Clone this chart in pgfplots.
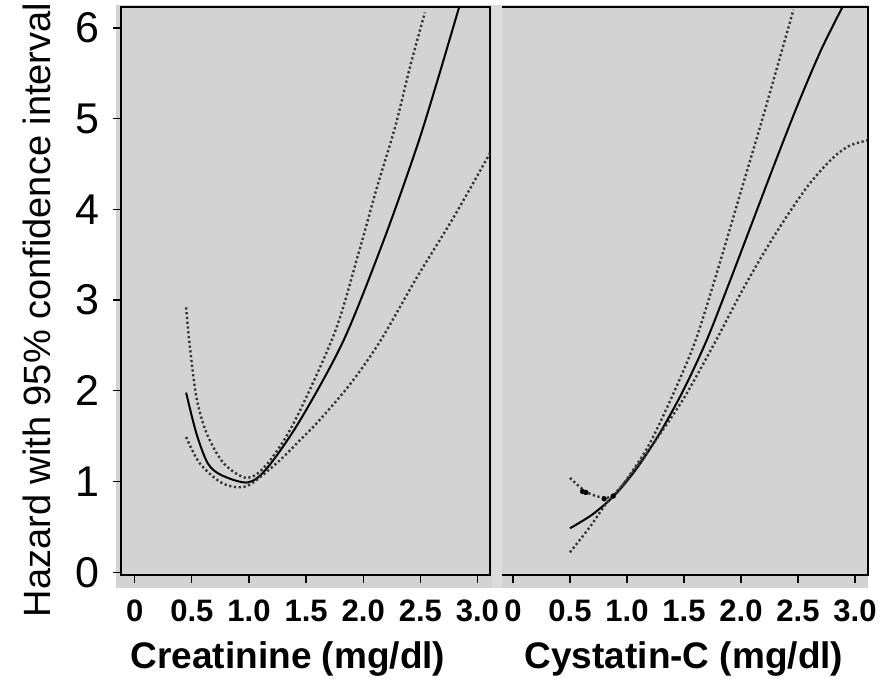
\documentclass[border=0pt]{standalone}
\usepackage{fontspec}
\setmainfont{Liberation Sans}
\usepackage{pgfplots}
\pgfplotsset{compat=1.18}

\definecolor{panelgray}{HTML}{D3D3D3}
\definecolor{gapgray}{HTML}{DCDCDC}
\definecolor{cidot}{HTML}{333333}

\pgfplotsset{
  hazard/.style={
    scale only axis, height=568pt,
    ymin=-0.03, ymax=6.23,
    xtick={0,0.5,1,1.5,2,2.5,3},
    xticklabels={0,0.5,1.0,1.5,2.0,2.5,3.0},
    xtick pos=left, ytick pos=left,
    tick align=outside,
    major tick length=8pt,
    tick style={line width=1.3pt, black},
    xticklabel style={font=\fontsize{31}{31}\selectfont\bfseries, inner sep=0pt, anchor=north, yshift=-17pt},
    yticklabel style={font=\fontsize{43}{43}\selectfont, inner sep=0pt, anchor=east, xshift=-13pt},
    axis line style={line width=1.8pt},
  },
  est/.style={black, line width=2pt, smooth},
  ci/.style={cidot, line width=2.4pt, dash pattern=on 2.2pt off 2.6pt, smooth},
}

\begin{document}
\begin{tikzpicture}
\path[use as bounding box] (0pt,0pt) rectangle (893pt,678pt);
\fill[panelgray] (116pt,90pt) rectangle (868pt,673pt);
\fill[gapgray] (492pt,90pt) rectangle (502pt,673pt);

% creatinine
\begin{axis}[hazard, name=L, at={(121pt,103pt)}, anchor=south west,
    width=369pt, xmin=-0.12, xmax=3.11,
    ytick={0,1,2,3,4,5,6}, yticklabels={0,1,2,3,4,5,6}]
\addplot[est] coordinates {
(0.45,1.98)(0.54,1.53)(0.64,1.20)(0.76,1.07)(0.99,0.99)(1.16,1.15)(1.45,1.68)
(1.83,2.56)(2.18,3.66)(2.47,4.69)(2.65,5.42)(2.84,6.23)};
\addplot[ci] coordinates {
(0.45,2.92)(0.48,2.52)(0.54,1.93)(0.63,1.53)(0.78,1.20)(0.98,1.04)(1.15,1.18)
(1.39,1.64)(1.75,2.64)(1.96,3.52)(2.12,4.24)(2.28,4.91)(2.41,5.57)(2.54,6.17)};
\addplot[ci] coordinates {
(0.45,1.49)(0.57,1.20)(0.77,0.98)(0.98,0.95)(1.24,1.20)(1.45,1.46)(1.62,1.68)
(1.89,2.08)(2.15,2.55)(2.47,3.25)(2.80,3.93)(3.11,4.62)};
\end{axis}

% cystatin-C
\begin{axis}[hazard, name=R, at={(502pt,103pt)}, anchor=south west,
    width=366pt, xmin=-0.096, xmax=3.114,
    ytick=\empty, axis line style={draw=none}]
\addplot[est] coordinates {
(0.50,0.485)(0.70,0.64)(0.90,0.86)(1.10,1.17)(1.30,1.56)(1.50,2.02)(1.70,2.56)
(1.90,3.20)(2.10,3.86)(2.30,4.52)(2.50,5.16)(2.70,5.75)(2.89,6.23)};
\addplot[ci] coordinates {
(0.50,1.04)(0.65,0.88)(0.81,0.82)(0.91,0.88)(1.05,1.12)(1.20,1.42)(1.40,1.95)
(1.60,2.55)(1.80,3.35)(2.00,4.20)(2.20,5.05)(2.46,6.20)};
\addplot[ci] coordinates {
(0.50,0.22)(0.675,0.50)(0.82,0.76)(1.00,1.02)(1.20,1.36)(1.46,1.84)(1.60,2.14)
(1.80,2.60)(2.00,3.08)(2.20,3.52)(2.40,3.92)(2.60,4.28)(2.80,4.56)(2.95,4.70)(3.11,4.76)};
\addplot[only marks, mark=*, mark size=2.4pt, black] coordinates {
(0.61,0.89)(0.64,0.88)(0.80,0.81)(0.88,0.84)};
\end{axis}
\draw[line width=1.8pt] (R.north west) -- (R.north east) -- (R.south east) -- (R.south west);

\node[rotate=90, anchor=base, font=\fontsize{38}{38}\selectfont] at (50pt,368pt) {Hazard with 95\% confidence interval};
\node[anchor=base, font=\fontsize{37}{37}\selectfont\bfseries] at (288pt,10pt) {Creatinine (mg/dl)};
\node[anchor=base, font=\fontsize{37}{37}\selectfont\bfseries] at (684pt,10pt) {Cystatin-C (mg/dl)};
\end{tikzpicture}
\end{document}
